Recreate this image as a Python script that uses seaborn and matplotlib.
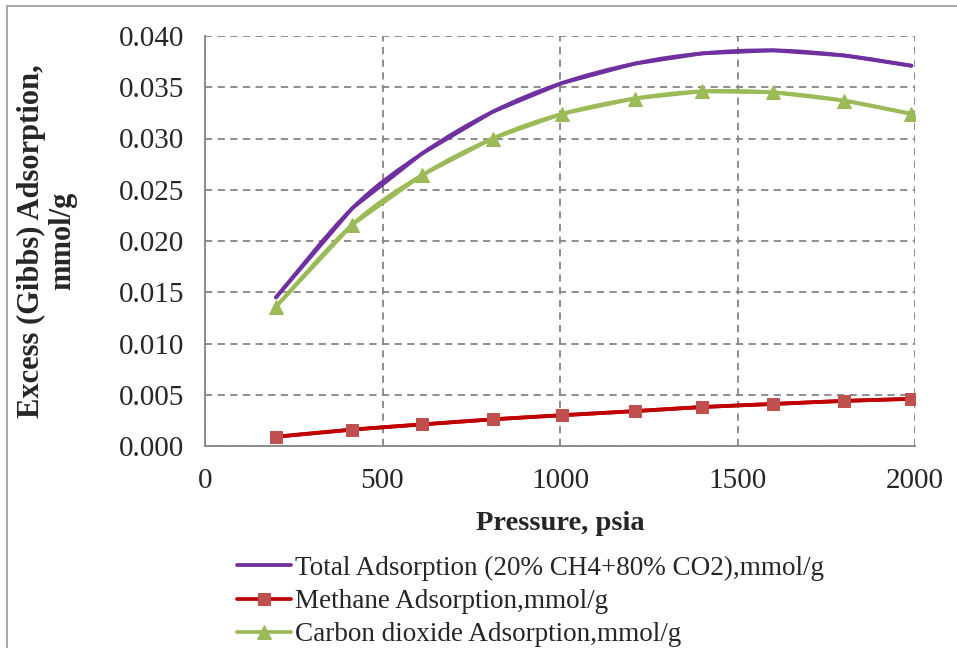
import matplotlib
matplotlib.use("Agg")
import matplotlib.pyplot as plt
import seaborn as sns
import pandas as pd
import numpy as np
from matplotlib.path import Path
from matplotlib.patches import PathPatch, Rectangle

# pressure points (psia)
pressure = [200, 415, 610, 810, 1005, 1210, 1400, 1600, 1800, 1990]

# adsorption, mmol/g
total_ads = [0.0145, 0.0232, 0.0285, 0.0326, 0.0354, 0.0373, 0.0383, 0.0386, 0.0381, 0.0371]
methane_ads = [0.0009, 0.0016, 0.0021, 0.0026, 0.0030, 0.0034, 0.0038, 0.0041, 0.0044, 0.0046]
co2_ads = [0.0136, 0.0216, 0.0264, 0.0300, 0.0324, 0.0339, 0.0346, 0.0345, 0.0337, 0.0324]

labels = ["Total Adsorption (20% CH4+80% CO2),mmol/g",
          "Methane Adsorption,mmol/g",
          "Carbon dioxide Adsorption,mmol/g"]
colors = ["#7030A0", "#C00000", "#9BBB59"]


def smooth_path(xs, ys):
    # excel style smoothed line: cubic bezier through the points
    pts = np.column_stack([xs, ys]).astype(float)
    n = len(pts)
    verts = [pts[0]]
    codes = [Path.MOVETO]
    for i in range(n - 1):
        p0 = pts[max(i - 1, 0)]
        p1 = pts[i]
        p2 = pts[i + 1]
        p3 = pts[min(i + 2, n - 1)]
        verts += [p1 + (p2 - p0) / 6, p2 - (p3 - p1) / 6, p2]
        codes += [Path.CURVE4] * 3
    return Path(verts, codes)


sns.set_style("white")
plt.rcParams['font.family'] = ['Liberation Serif', 'DejaVu Serif']

df = pd.DataFrame({"p": pressure, "tot": total_ads, "ch4": methane_ads, "co2": co2_ads})

fig = plt.figure(figsize=(9.57, 6.48), dpi=100)
ax = fig.add_axes([205/957, 1 - 446/648, 710/957, 410/648])

lw = 2.7
# the lines themselves are drawn smoothed below, seaborn gives markers + legend
sns.lineplot(data=df, x="p", y="tot", ax=ax, color=colors[0], linewidth=lw, label=labels[0],
             linestyle="")
sns.lineplot(data=df, x="p", y="ch4", ax=ax, color=colors[1], linewidth=lw, linestyle="",
             marker="s", markersize=9, markerfacecolor="#C0504D", markeredgecolor="#C0504D",
             label=labels[1], zorder=4)
sns.lineplot(data=df, x="p", y="co2", ax=ax, color=colors[2], linewidth=lw, linestyle="",
             marker="^", markersize=10, markerfacecolor="#9BBB59", markeredgecolor="#9BBB59",
             label=labels[2], zorder=4)

for col, c in zip(["tot", "ch4", "co2"], colors):
    ax.add_patch(PathPatch(smooth_path(df["p"], df[col]), fill=False, edgecolor=c,
                           linewidth=lw, capstyle="round", zorder=3))

ax.set_xlim(0, 2000)
ax.set_ylim(0, 0.040)
ax.set_xticks([0, 500, 1000, 1500, 2000])
ax.set_yticks([i * 0.005 for i in range(9)])
ax.set_yticklabels([f"{i * 0.005:.3f}" for i in range(9)])

ax.grid(True, color="#868686", linestyle=(0, (4, 3)), linewidth=1.3)
for s in ["top", "right"]:
    ax.spines[s].set_visible(False)
for s in ["left", "bottom"]:
    ax.spines[s].set_color("#868686")
    ax.spines[s].set_linewidth(1.3)

ax.tick_params(axis="y", direction="inout", length=14, width=1.3, color="#868686",
               labelsize=21, pad=8)
ax.tick_params(axis="x", direction="out", length=8, width=1.3, color="#868686",
               labelsize=21, pad=8)

ax.set_xlabel("Pressure, psia", fontsize=20.5, fontweight="bold", labelpad=12)
ax.set_ylabel("Excess (Gibbs) Adsorption,\nmmol/g", fontsize=22, fontweight="bold",
              linespacing=1.1)
ax.yaxis.set_label_coords(-0.18, 0.5)

ax.get_legend().remove()
handles, labs = ax.get_legend_handles_labels()
for h, c in zip(handles, colors):
    h.set_linestyle("-")
    h.set_color(c)
fig.legend(handles, labs, loc="upper left", bbox_to_anchor=(226/957, 1 - 545/648),
           frameon=False, fontsize=19.5, handlelength=2.0, handletextpad=0.15,
           labelspacing=0.3, borderaxespad=0)

# outer chart frame
fig.patches.append(Rectangle((7/957, -0.1), 1.2, 1 - 6/648 + 0.1, transform=fig.transFigure,
                             fill=False, edgecolor="#a0a0a0", linewidth=1.3))

fig.savefig("out.png", dpi=100)
